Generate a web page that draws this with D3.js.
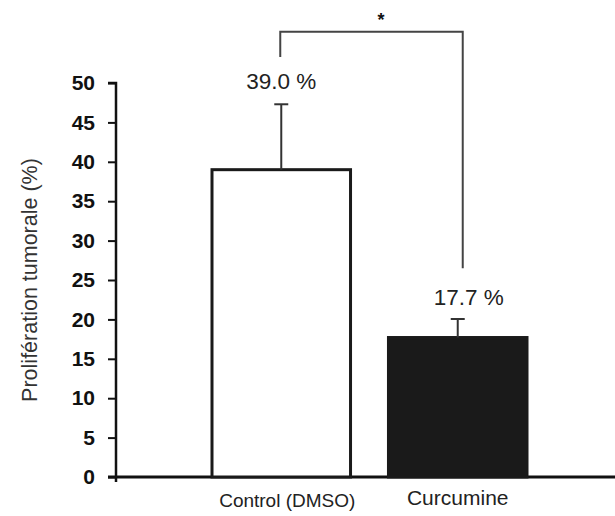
<!DOCTYPE html>
<html><head><meta charset="utf-8">
<script src="https://cdn.jsdelivr.net/npm/d3@7"></script>
<style>body{margin:0;background:#fff}svg{display:block}</style>
</head><body>
<script>
const categories = ["Control (DMSO)", "Curcumine"];
const values = [39.0, 17.7];
const errors = [8.3, 2.35];
const valueLabels = ["39.0 %", "17.7 %"];
const yTicks = [0, 5, 10, 15, 20, 25, 30, 35, 40, 45, 50];
const yTitle = "Prolifération tumorale (%)";
const sigLabel = "*";

const W = 615, H = 516;
const svg = d3.select("body").append("svg").attr("width", W).attr("height", H);
const font = "'Liberation Sans', Arial, sans-serif";

const y = d3.scaleLinear().domain([0, 50]).range([477, 83]);
const x = d3.scaleBand().domain(categories).range([212, 527]).paddingInner(0.215).paddingOuter(0);
const cxOf = c => x(c) + x.bandwidth() / 2;

// x axis line
svg.append("line").attr("x1", 108).attr("x2", W).attr("y1", y(0)).attr("y2", y(0))
  .attr("stroke", "#111").attr("stroke-width", 3);

// bars
const fills = ["#fff", "#1a1a1a"];
svg.selectAll("rect.bar").data(categories).join("rect")
  .attr("x", d => x(d)).attr("width", x.bandwidth())
  .attr("y", (d, i) => y(values[i])).attr("height", (d, i) => y(0) - y(values[i]))
  .attr("fill", (d, i) => fills[i]).attr("stroke", "#1a1a1a").attr("stroke-width", 3);

// error bars
categories.forEach((c, i) => {
  const cx = cxOf(c);
  svg.append("line").attr("x1", cx).attr("x2", cx).attr("y1", y(values[i])).attr("y2", y(values[i] + errors[i]))
    .attr("stroke", "#333").attr("stroke-width", 2);
  svg.append("line").attr("x1", cx - 7).attr("x2", cx + 7).attr("y1", y(values[i] + errors[i])).attr("y2", y(values[i] + errors[i]))
    .attr("stroke", "#333").attr("stroke-width", 2);
});

// value labels
const labelY = [49.2, 21.8];
const labelDx = [0, 11];
categories.forEach((c, i) => {
  svg.append("text").attr("x", cxOf(c) + labelDx[i]).attr("y", y(labelY[i])).attr("text-anchor", "middle")
    .attr("font-family", font).attr("font-size", 22.5).attr("fill", "#222").text(valueLabels[i]);
});

// significance bracket
const bx0 = cxOf(categories[0]) - 1;
const bx1 = cxOf(categories[1]) + 5;
svg.append("path").attr("d", `M${bx0},${y(53.3)} V${y(56.5)} H${bx1} V${y(26.5)}`)
  .attr("fill", "none").attr("stroke", "#444").attr("stroke-width", 2);
svg.append("text").attr("x", 381).attr("y", 26).attr("text-anchor", "middle")
  .attr("font-family", font).attr("font-size", 18).attr("font-weight", "bold").attr("fill", "#111").text(sigLabel);

// y axis
const yAxis = svg.append("g").attr("transform", "translate(116,0)")
  .call(d3.axisLeft(y).tickValues(yTicks).tickSize(8).tickPadding(13));
yAxis.select(".domain").attr("d", `M-8,${y(50)}H0V${y(0) + 5}`).attr("stroke", "#111").attr("stroke-width", 2.5);
yAxis.selectAll(".tick line").attr("stroke", "#111").attr("stroke-width", 2);
yAxis.selectAll(".tick text").attr("font-family", font).attr("font-size", 21).attr("font-weight", "bold").attr("fill", "#111");

// category labels
svg.append("text").attr("x", cxOf(categories[0]) + 6).attr("y", 507).attr("text-anchor", "middle")
  .attr("font-family", font).attr("font-size", 19).attr("fill", "#222").text(categories[0]);
svg.append("text").attr("x", cxOf(categories[1])).attr("y", 505).attr("text-anchor", "middle")
  .attr("font-family", font).attr("font-size", 21).attr("fill", "#222").text(categories[1]);

// y title
svg.append("text").attr("transform", "translate(37,280) rotate(-90)").attr("text-anchor", "middle")
  .attr("font-family", font).attr("font-size", 21.5).attr("fill", "#333").text(yTitle);
</script>
</body></html>
